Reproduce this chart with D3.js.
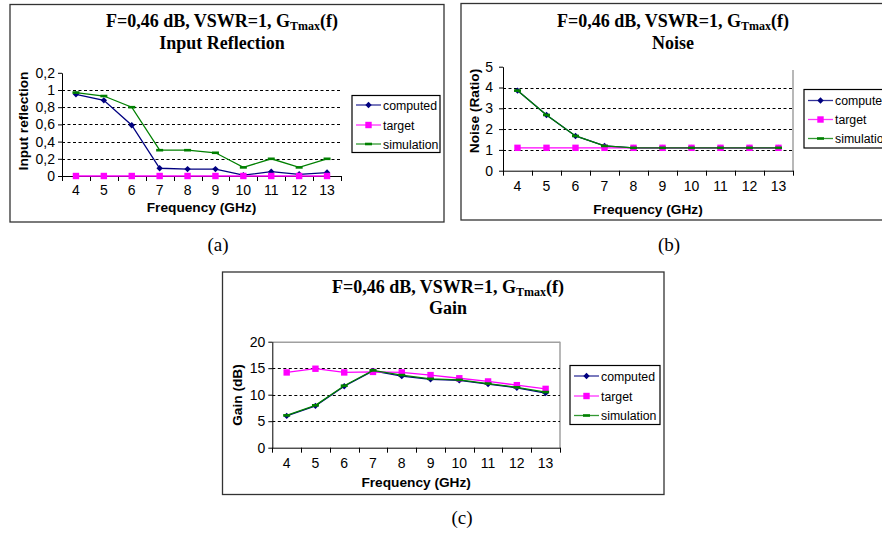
<!DOCTYPE html>
<html>
<head>
<meta charset="utf-8">
<script src="https://cdn.jsdelivr.net/npm/d3@7"></script>
<style>
  html, body { margin: 0; padding: 0; background: #fff; }
  svg { display: block; }
</style>
</head>
<body>
<svg id="fig" width="882" height="533"></svg>
<script>
// Frequency categories (GHz)
const categories = ["4", "5", "6", "7", "8", "9", "10", "11", "12", "13"];
const seriesNames = ["computed", "target", "simulation"];

// (a) Input reflection
const reflectionComputed   = [0.95, 0.88, 0.59, 0.09, 0.08, 0.08, 0.01, 0.05, 0.02, 0.04];
const reflectionTarget     = [0, 0, 0, 0, 0, 0, 0, 0, 0, 0];
const reflectionSimulation = [0.97, 0.93, 0.80, 0.30, 0.30, 0.27, 0.10, 0.20, 0.10, 0.20];
const reflectionTicks      = [0, 0.2, 0.4, 0.6, 0.8, 1, 1.2];
const reflectionTickLabels = ["0", "0,2", "0,4", "0,6", "0,8", "1", "0,2"];

// (b) Noise ratio
const noiseComputed   = [3.85, 2.68, 1.67, 1.19, 1.1, 1.1, 1.1, 1.1, 1.1, 1.1];
const noiseTarget     = [1.1, 1.1, 1.1, 1.1, 1.1, 1.1, 1.1, 1.1, 1.1, 1.1];
const noiseSimulation = [3.85, 2.68, 1.67, 1.19, 1.1, 1.1, 1.1, 1.1, 1.1, 1.1];
const noiseTicks      = [0, 1, 2, 3, 4, 5];
const noiseTickLabels = ["0", "1", "2", "3", "4", "5"];

// (c) Gain (dB)
const gainComputed   = [6.0, 7.9, 11.6, 14.5, 13.5, 12.9, 12.7, 12.0, 11.3, 10.3];
const gainTarget     = [14.2, 14.9, 14.2, 14.3, 14.2, 13.7, 13.1, 12.5, 11.8, 11.1];
const gainSimulation = [6.1, 8.0, 11.7, 14.6, 13.7, 13.0, 12.8, 12.1, 11.4, 10.5];
const gainTicks      = [0, 5, 10, 15, 20];
const gainTickLabels = ["0", "5", "10", "15", "20"];

const colors = { computed: "#000080", target: "#ff00ff", simulation: "#008000" };

const svg = d3.select("#fig");
const sans = "'Liberation Sans', Arial, sans-serif";
const serif = "'Liberation Serif', 'Times New Roman', serif";

function drawPanel(cfg) {
  const g = svg.append("g");

  // outer frame
  g.append("rect")
    .attr("x", cfg.frame[0]).attr("y", cfg.frame[1])
    .attr("width", cfg.frame[2] - cfg.frame[0]).attr("height", cfg.frame[3] - cfg.frame[1])
    .attr("fill", "#fff").attr("stroke", "#333").attr("stroke-width", 1.3);

  const x = d3.scaleBand().domain(categories).range([cfg.plot.left, cfg.plot.right]);
  const y = d3.scaleLinear().domain([cfg.ticks[0], cfg.ticks[cfg.ticks.length - 1]])
    .range([cfg.plot.bottom, cfg.plot.top]);

  // gray plot-area edges
  if (cfg.grayTop) {
    g.append("line").attr("x1", cfg.plot.left).attr("x2", cfg.plot.right)
      .attr("y1", y(cfg.ticks[cfg.ticks.length - 1]) + 0.5).attr("y2", y(cfg.ticks[cfg.ticks.length - 1]) + 0.5)
      .attr("stroke", "#a0a0a0").attr("stroke-width", 1.5);
  }
  if (cfg.grayRight) {
    g.append("line").attr("x1", cfg.plot.right).attr("x2", cfg.plot.right)
      .attr("y1", cfg.grayRightTop).attr("y2", cfg.plot.bottom)
      .attr("stroke", "#a0a0a0").attr("stroke-width", 1.5);
  }

  // dashed gridlines
  g.selectAll(".grid").data(cfg.grid).enter().append("line")
    .attr("x1", cfg.plot.left).attr("x2", cfg.plot.right)
    .attr("y1", d => Math.round(y(d)) + 0.5).attr("y2", d => Math.round(y(d)) + 0.5)
    .attr("stroke", "#000").attr("stroke-width", 1).attr("stroke-dasharray", "3,2.5");

  // y axis
  const yAxis = d3.axisLeft(y).tickValues(cfg.ticks)
    .tickFormat((d, i) => cfg.tickLabels[i]).tickSize(4).tickPadding(cfg.yPad).tickSizeOuter(0);
  const ya = g.append("g").attr("transform", `translate(${cfg.plot.left},0)`).call(yAxis);
  ya.select(".domain").attr("stroke", "#000");
  ya.selectAll("text").attr("font-family", sans).attr("font-size", 14).attr("fill", "#000");

  // x axis: labels centred in bands, tick marks on band boundaries
  const xAxis = d3.axisBottom(x).tickSize(0).tickPadding(cfg.xPad).tickSizeOuter(0);
  const xa = g.append("g").attr("transform", `translate(0,${cfg.plot.bottom})`).call(xAxis);
  xa.select(".domain").attr("stroke", "#000");
  xa.selectAll("text").attr("font-family", sans).attr("font-size", 14).attr("fill", "#000");
  const bounds = categories.map(c => x(c)).concat([x(categories[categories.length - 1]) + x.bandwidth()]);
  g.selectAll(".xt").data(bounds).enter().append("line")
    .attr("x1", d => Math.round(d) + 0.5).attr("x2", d => Math.round(d) + 0.5)
    .attr("y1", cfg.plot.bottom).attr("y2", cfg.plot.bottom + 5)
    .attr("stroke", "#000");

  // axis titles
  g.append("text").attr("x", (cfg.plot.left + cfg.plot.right) / 2).attr("y", cfg.xTitleY)
    .attr("text-anchor", "middle").attr("font-family", sans).attr("font-weight", "bold")
    .attr("font-size", 13.7).text("Frequency (GHz)");
  g.append("text")
    .attr("transform", `translate(${cfg.yTitle[0]},${cfg.yTitle[1]}) rotate(-90)`)
    .attr("text-anchor", "middle").attr("font-family", sans).attr("font-weight", "bold")
    .attr("font-size", 13.7).text(cfg.yTitleText);

  // titles
  const t1 = g.append("text").attr("x", cfg.titleX).attr("y", cfg.titleY[0])
    .attr("text-anchor", "middle").attr("font-family", serif).attr("font-weight", "bold")
    .attr("font-size", 18);
  t1.append("tspan").text("F=0,46 dB, VSWR=1, G");
  t1.append("tspan").attr("font-size", 12).attr("dy", 3).text("Tmax");
  t1.append("tspan").attr("dy", -3).text("(f)");
  g.append("text").attr("x", cfg.titleX).attr("y", cfg.titleY[1])
    .attr("text-anchor", "middle").attr("font-family", serif).attr("font-weight", "bold")
    .attr("font-size", 18).text(cfg.subtitle);

  // series
  const line = d3.line().x((d, i) => x(categories[i]) + x.bandwidth() / 2).y(d => y(d));
  const seriesData = { computed: cfg.computed, target: cfg.target, simulation: cfg.simulation };
  seriesNames.forEach(name => {
    const vals = seriesData[name];
    g.append("path").datum(vals).attr("d", line).attr("fill", "none")
      .attr("stroke", colors[name]).attr("stroke-width", 1.3);
    const pts = g.selectAll(null).data(vals).enter();
    drawMarker(pts, name, (d, i) => x(categories[i]) + x.bandwidth() / 2, d => y(d));
  });

  // legend
  const L = cfg.legend;
  g.append("rect").attr("x", L.x).attr("y", L.y).attr("width", L.w).attr("height", L.h)
    .attr("fill", "#fff").attr("stroke", "#000").attr("stroke-width", 1.2);
  seriesNames.forEach((name, i) => {
    const yy = L.rows[i];
    g.append("line").attr("x1", L.x + 4).attr("x2", L.x + 29).attr("y1", yy).attr("y2", yy)
      .attr("stroke", colors[name]).attr("stroke-width", 1.3).attr("opacity", 0.8);
    drawMarker(g.selectAll(null).data([0]).enter(), name, () => L.x + 16.5, () => yy);
    g.append("text").attr("x", L.x + 31).attr("y", yy + 4.5).attr("font-family", sans)
      .attr("font-size", 12.3).attr("fill", "#000").text(name);
  });

  // caption
  svg.append("text").attr("x", cfg.caption[0]).attr("y", cfg.caption[1])
    .attr("text-anchor", "middle").attr("font-family", serif).attr("font-size", 19)
    .text(cfg.captionText);
}

function drawMarker(sel, name, fx, fy) {
  if (name === "computed") {
    sel.append("path")
      .attr("d", d3.symbol().type(d3.symbolDiamond2).size(26))
      .attr("transform", (d, i) => `translate(${fx(d, i)},${fy(d, i)})`)
      .attr("fill", colors.computed);
  } else if (name === "target") {
    sel.append("rect")
      .attr("x", (d, i) => fx(d, i) - 3.2).attr("y", (d, i) => fy(d, i) - 3.2)
      .attr("width", 6.4).attr("height", 6.4).attr("fill", colors.target);
  } else {
    sel.append("rect")
      .attr("x", (d, i) => fx(d, i) - 3.5).attr("y", (d, i) => fy(d, i) - 1.3)
      .attr("width", 7).attr("height", 2.6).attr("fill", colors.simulation);
  }
}

drawPanel({
  frame: [10, 4.5, 444, 222],
  plot: { left: 62, right: 341, top: 72.8, bottom: 176 },
  ticks: reflectionTicks, tickLabels: reflectionTickLabels,
  grid: [0.2, 0.4, 0.6, 0.8, 1],
  yPad: 3, xPad: 9,
  xTitleY: 212, yTitle: [28, 121], yTitleText: "Input reflection",
  titleX: 222, titleY: [27, 49], subtitle: "Input Reflection",
  computed: reflectionComputed, target: reflectionTarget, simulation: reflectionSimulation,
  legend: { x: 352, y: 95.5, w: 88, h: 57, rows: [105, 125, 144] },
  caption: [218, 251], captionText: "(a)"
});

drawPanel({
  frame: [461, 3.5, 890, 220],
  plot: { left: 503, right: 793, top: 66.7, bottom: 170.7 },
  ticks: noiseTicks, tickLabels: noiseTickLabels,
  grid: [1, 2, 3, 4],
  grayRight: true, grayRightTop: 70,
  yPad: 6, xPad: 10,
  xTitleY: 214, yTitle: [479, 111], yTitleText: "Noise (Ratio)",
  titleX: 673, titleY: [27, 48.5], subtitle: "Noise",
  computed: noiseComputed, target: noiseTarget, simulation: noiseSimulation,
  legend: { x: 804, y: 89.5, w: 90, h: 58.5, rows: [100.5, 119.5, 138.5] },
  caption: [669, 251], captionText: "(b)"
});

drawPanel({
  frame: [222.5, 272, 664, 494.5],
  plot: { left: 272.3, right: 560, top: 341.7, bottom: 447.7 },
  ticks: gainTicks, tickLabels: gainTickLabels,
  grid: [5, 10, 15],
  grayTop: true, grayRight: true, grayRightTop: 341.7,
  yPad: 3, xPad: 10,
  xTitleY: 487, yTitle: [242, 395], yTitleText: "Gain (dB)",
  titleX: 448, titleY: [292.5, 313.5], subtitle: "Gain",
  computed: gainComputed, target: gainTarget, simulation: gainSimulation,
  legend: { x: 570, y: 365.5, w: 90, h: 59, rows: [376, 396, 415.5] },
  caption: [462, 524], captionText: "(c)"
});
</script>
</body>
</html>
